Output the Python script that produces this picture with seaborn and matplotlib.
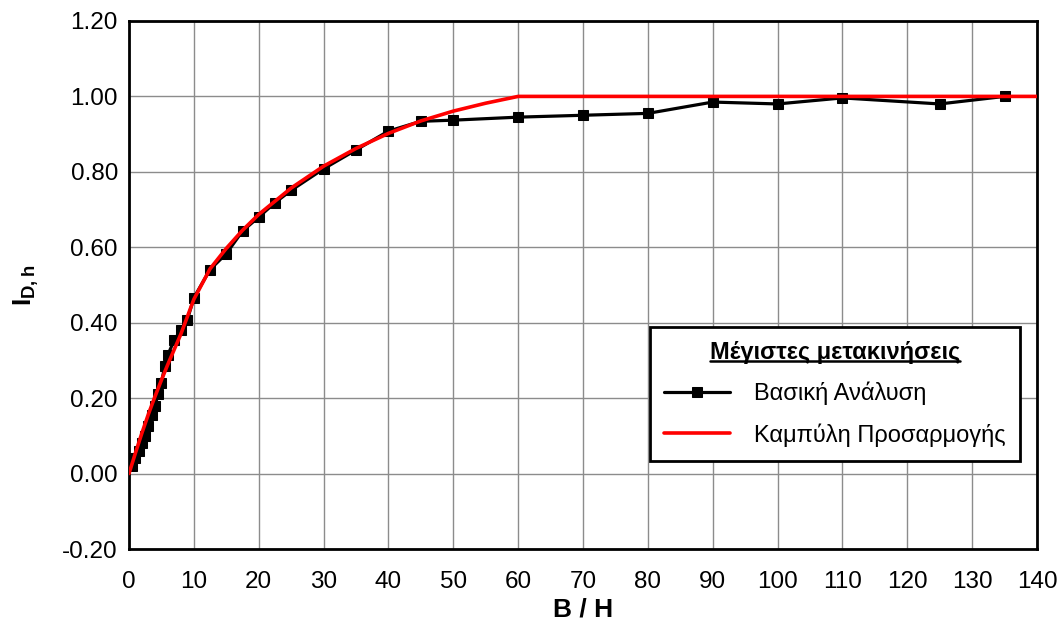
import matplotlib
matplotlib.use("Agg")
import matplotlib.pyplot as plt
import seaborn as sns
import pandas as pd
from matplotlib.ticker import MultipleLocator, FormatStrFormatter
from matplotlib.lines import Line2D

# ---- data ----
bh_basic = [0.5, 1.0, 1.5, 2.0, 2.5, 3.0, 3.5, 4.0, 4.5, 5.0, 5.5, 6.0, 7.0, 8.0, 9.0,
            10, 12.5, 15, 17.5, 20, 22.5, 25, 30, 35, 40, 45, 50, 60, 70, 80, 90,
            100, 110, 125, 135]
i_basic = [0.02, 0.04, 0.06, 0.08, 0.10, 0.125, 0.155, 0.18, 0.21, 0.24, 0.285, 0.315,
           0.355, 0.38, 0.408, 0.466, 0.541, 0.583, 0.643, 0.68, 0.718, 0.751, 0.808,
           0.858, 0.908, 0.934, 0.937, 0.945, 0.950, 0.955, 0.985, 0.980, 0.996, 0.980, 1.0]

bh_fit = [0, 1, 2, 3, 4, 5, 6, 8, 10, 12.5, 15, 17.5, 20, 25, 30, 35, 40, 45, 50, 55, 60, 140]
i_fit = [0.0, 0.055, 0.108, 0.158, 0.204, 0.248, 0.29, 0.37, 0.462, 0.543, 0.597, 0.645,
         0.687, 0.757, 0.815, 0.862, 0.902, 0.935, 0.961, 0.982, 1.0, 1.0]

label_basic = "Βασική Ανάλυση"
label_fit = "Καμπύλη Προσαρμογής"
legend_title = "Μέγιστες μετακινήσεις"
x_label = "B / H"

sns.set_style("white")
plt.rcParams['font.family'] = ['Liberation Sans', 'DejaVu Sans']
plt.rcParams['mathtext.fontset'] = 'custom'
plt.rcParams['mathtext.rm'] = 'Liberation Sans'
plt.rcParams['mathtext.bf'] = 'Liberation Sans:bold'
plt.rcParams['text.color'] = 'black'
plt.rcParams['axes.labelcolor'] = 'black'
plt.rcParams['xtick.color'] = 'black'
plt.rcParams['ytick.color'] = 'black'

fig = plt.figure(figsize=(10.6, 6.26), dpi=100)
ax = fig.add_axes([0.1217, 0.123, 0.8566, 0.8435])

df_b = pd.DataFrame({"x": bh_basic, "y": i_basic})
df_f = pd.DataFrame({"x": bh_fit, "y": i_fit})

sns.lineplot(data=df_b, x="x", y="y", ax=ax, color="black", lw=2.3, marker="s",
             markersize=7, markeredgecolor="black", sort=False, estimator=None,
             label=label_basic, zorder=3)
sns.lineplot(data=df_f, x="x", y="y", ax=ax, color="#ff0000", lw=2.6, sort=False,
             estimator=None, label=label_fit, zorder=4)

ax.set_xlim(0, 140)
ax.set_ylim(-0.2, 1.2)
ax.xaxis.set_major_locator(MultipleLocator(10))
ax.xaxis.set_minor_locator(MultipleLocator(2))
ax.yaxis.set_major_locator(MultipleLocator(0.2))
ax.yaxis.set_minor_locator(MultipleLocator(0.04))
ax.yaxis.set_major_formatter(FormatStrFormatter('%.2f'))

ax.grid(True, which='major', color='#8c8c8c', lw=1.0)
ax.set_axisbelow(True)

ax.tick_params(axis='both', which='major', direction='in', length=9, width=1.5,
               labelsize=17.5, top=False, right=False, colors='black')
ax.tick_params(axis='x', which='major', pad=16)
ax.tick_params(axis='y', which='major', pad=8)
ax.tick_params(axis='both', which='minor', direction='in', length=5, width=1.2,
               top=False, right=False, colors='black')
for s in ax.spines.values():
    s.set_linewidth(2)
    s.set_color('black')

ax.set_xlabel(x_label, fontsize=19, fontweight='bold', labelpad=3)
ax.set_ylabel(r'$\mathbf{I}_{\mathbf{D,h}}$', fontsize=19, labelpad=15)

leg = ax.legend(loc='lower right', bbox_to_anchor=(0.981, 0.167), borderaxespad=0,
                title=legend_title, fontsize=17,
                title_fontproperties={'weight': 'bold', 'size': 17},
                frameon=True, fancybox=False, edgecolor='black', framealpha=1,
                handlelength=2.8, handletextpad=1.0, borderpad=0.6, labelspacing=0.75)
leg.get_frame().set_linewidth(2)

fig.canvas.draw()
r = fig.canvas.get_renderer()
bb = leg.get_title().get_window_extent(r)
inv = fig.transFigure.inverted()
(x0, y0), (x1, y1) = inv.transform([[bb.x0, bb.y0], [bb.x1, bb.y0]])
fig.add_artist(Line2D([x0, x1], [y0 + 0.005, y0 + 0.005], color='black', lw=1.8,
                      transform=fig.transFigure))

fig.savefig("out.png", dpi=100)
